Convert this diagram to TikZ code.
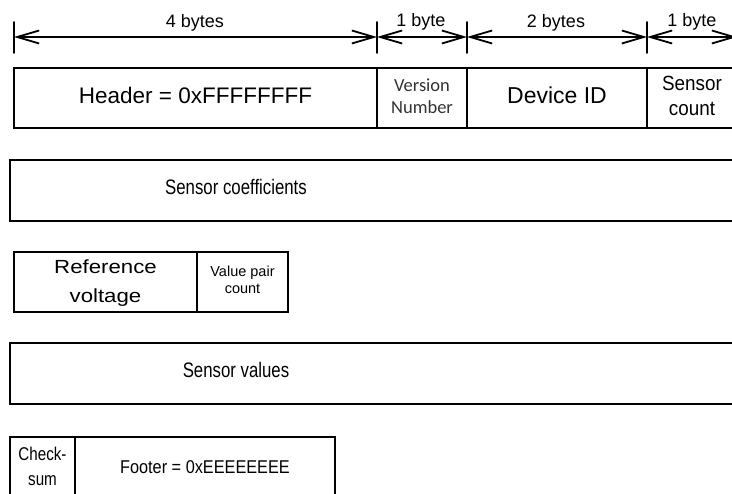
\documentclass[tikz,border=0pt]{standalone}
\usepackage{fontspec}
\setmainfont{Liberation Sans}
\newfontfamily\versionfont{Carlito}
\usepackage{tkz-euclide}
\usetikzlibrary{arrows.meta, positioning}

\newcommand{\fieldtext}[4][1]{\scalebox{#1}[1]{\fontsize{#2}{#3}\selectfont\begin{tabular}{@{}c@{}}#4\end{tabular}}}

\tikzset{
	field/.style={draw, line width=2.6pt, outer sep=0pt, inner sep=0pt, minimum height=60pt, anchor=north west},
	dimline/.style={line width=1.8pt, {Straight Barb[length=22pt,width=13pt]}-{Straight Barb[length=22pt,width=13pt]}},
	dimtick/.style={line width=1.8pt},
	dimlabel/.style={inner sep=0pt, font=\fontsize{18}{20}\selectfont}
}

\begin{document}
\begin{tikzpicture}[x=1pt, y=-1pt]
	\useasboundingbox (0,0) rectangle (732,494);
	\clip (0,0) rectangle (732,494);

	% byte widths
	\tkzDefPoints{14/37/D0, 377/37/D1, 467/37/D2, 647/37/D3, 737/37/D4}
	\tkzDefPoints{14/22/T0, 377/22/T1, 467/22/T2, 647/22/T3}
	\tkzDefPoints{14/53/B0, 377/53/B1, 467/53/B2, 647/53/B3}
	\tkzDrawSegments[dimtick](T0,B0 T1,B1 T2,B2 T3,B3)
	\tkzDrawSegments[dimline](D0,D1 D1,D2 D2,D3 D3,D4)
	\node[dimlabel] (four) at (195,23) {4 bytes};
	\node[dimlabel] (one) at (421,22) {1 byte};
	\node[dimlabel] (two) at (556,23) {2 bytes};
	\node[dimlabel] (last) at (692,22) {1 byte};

	% header row
	\node[field, minimum width=363pt] (hdr) at (14,68) {\fieldtext{22.5}{26}{Header = 0xFFFFFFFF}};
	\node[field, minimum width=90pt, right=0pt of hdr] (ver) {\versionfont\color{black!80}\fieldtext{18.5}{22}{Version\\Number}};
	\node[field, minimum width=180pt, right=0pt of ver] (dev) {\fieldtext{23}{26}{Device ID}};
	\node[field, minimum width=90pt, right=0pt of dev] (cnt) {\fieldtext[0.92]{20.5}{25}{Sensor\\count}};

	% coefficients
	\node[field, minimum width=740pt, minimum height=61pt] (coef) at (10,160) {};
	\node (coeftxt) at (236,190) {\fieldtext[0.8]{21}{24}{Sensor coefficients}};

	% reference voltage
	\node[field, minimum width=183pt] (ref) at (14,252) {\fieldtext[1.17]{19}{29}{Reference\\voltage}};
	\node[field, minimum width=91pt, right=0pt of ref] (pair) {\fieldtext{14.5}{17}{Value pair\\count}};

	% values
	\node[field, minimum width=740pt, minimum height=61pt] (vals) at (10,343) {};
	\node (valstxt) at (236,373) {\fieldtext[0.8]{21}{24}{Sensor values}};

	% footer row
	\node[field, minimum width=65pt, minimum height=63pt] (chk) at (10,437) {\fieldtext[0.82]{18.5}{25}{Check-\\sum}};
	\node[field, minimum width=260pt, minimum height=63pt, right=0pt of chk] (ftr) {\fieldtext[0.88]{18.5}{24}{Footer = 0xEEEEEEEE}};
\end{tikzpicture}
\end{document}
